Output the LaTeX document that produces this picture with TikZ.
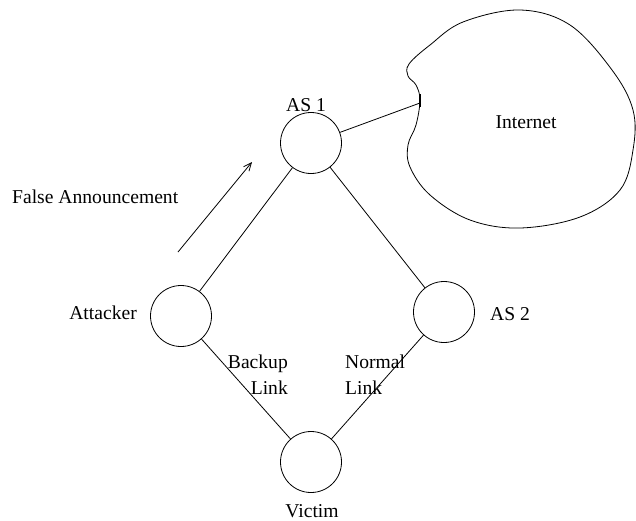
\documentclass[tikz,border=0pt]{standalone}
\usepackage{fontspec}
\setmainfont{Liberation Serif}
\usetikzlibrary{arrows.meta}
\begin{document}
\begin{tikzpicture}[x=1pt,y=-1pt,
  asnode/.style={circle,draw,line width=0.8pt,minimum size=61pt,inner sep=0},
  lbl/.style={inner sep=0,font=\fontsize{19.6}{23}\selectfont},
  link/.style={line width=0.8pt}]
\useasboundingbox (0,0) rectangle (636,520);
\node[asnode] (as1) at (311,143) {};
\node[asnode] (att) at (181,316) {};
\node[asnode] (as2) at (444,312) {};
\node[asnode] (vic) at (311,462) {};
\node[lbl,anchor=base] (las1) at (306,111) {AS 1};
\node[lbl,anchor=base east] (latt) at (137,319) {Attacker};
\node[lbl,anchor=base west] (las2) at (490,320) {AS 2};
\node[lbl,anchor=base] (lvic) at (312,517) {Victim};
\node[lbl,anchor=base] (linet) at (526,128) {Internet};
\node[lbl,anchor=base west] (lfalse) at (12,203) {False Announcement};
\node[lbl,anchor=base east] (lb1) at (288,368) {Backup};
\node[lbl,anchor=base east] (lb2) at (288,394) {Link};
\node[lbl,anchor=base west] (ln1) at (345,368) {Normal};
\node[lbl,anchor=base west] (ln2) at (345,394) {Link};
\draw[link] (as1) -- (att);
\draw[link] (as1) -- (as2);
\draw[link] (att) -- (vic);
\draw[link] (as2) -- (vic);
\coordinate (a0) at (178,252);
\coordinate (a1) at (252,162);
\draw[link,-{Straight Barb[length=8pt,width=7pt]}] (a0) -- (a1);
\coordinate (t0) at (420,94);
\coordinate (t1) at (420,107);
\coordinate (tm) at (420,103);
\draw[line width=2pt] (t0) -- (t1);
\draw[link] (as1) -- (tm);
\draw[link] plot[smooth cycle, tension=0.6] coordinates {
 (420,100) (416,85) (408,76) (409,64) (430,45) (463,22) (520,10) (570,25)
 (612,70) (633,110) (633,150) (620,190) (580,217) (520,228) (470,220)
 (430,195) (410,167) (408,145) (416,125)};
\end{tikzpicture}
\end{document}
